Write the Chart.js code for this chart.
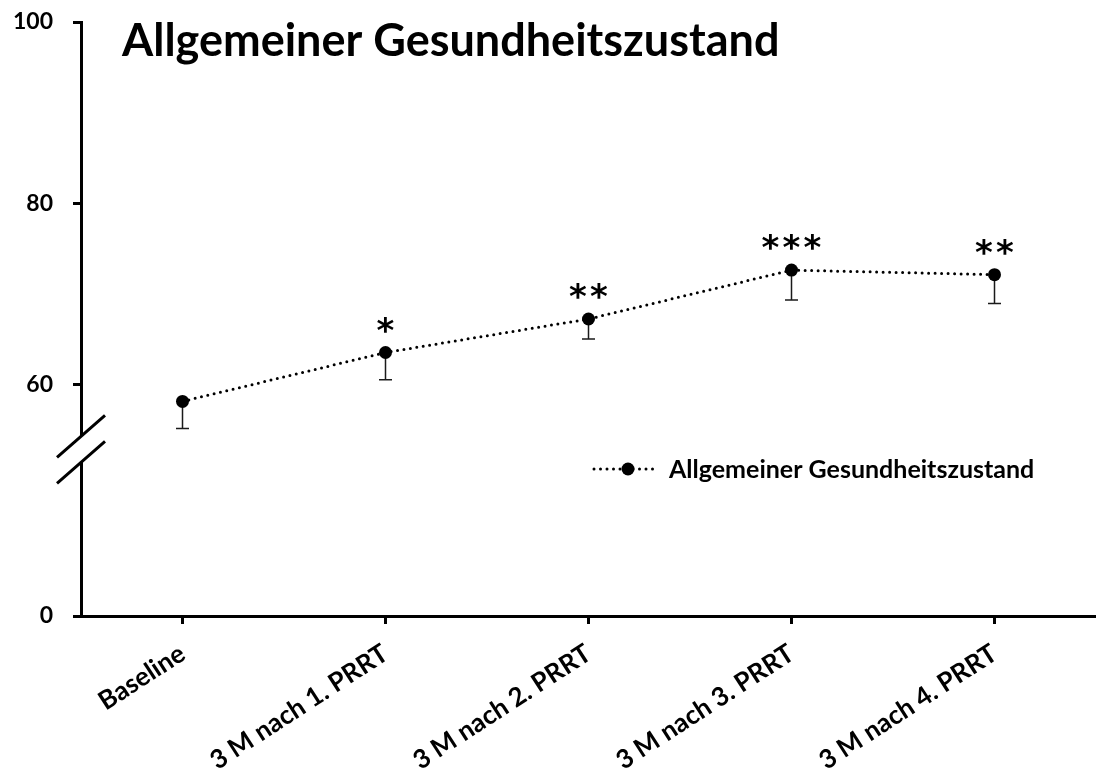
<!DOCTYPE html>
<html>
<head>
<meta charset="utf-8">
<script src="https://cdn.jsdelivr.net/npm/chart.js@4.4.1/dist/chart.umd.min.js"></script>
<style>
  html, body { margin: 0; padding: 0; background: #fff; }
  #wrap { width: 1096px; height: 776px; position: relative; }
</style>
</head>
<body>
<div id="wrap"><canvas id="c" width="1096" height="776"></canvas></div>
<script>
// Time points and mean scores (with one-sided standard errors)
const categories = ['Baseline', '3 M nach 1. PRRT', '3 M nach 2. PRRT', '3 M nach 3. PRRT', '3 M nach 4. PRRT'];
const scoreMeans = [58.1, 63.5, 67.2, 72.6, 72.1];
const scoreErrors = [3.0, 3.0, 2.2, 3.3, 3.2];
const significance = ['', '*', '**', '***', '**'];

// Broken value axis: the floor of the drawn range is labelled "0"
const AXIS_FLOOR = 34.4;
const AXIS_BREAK = 52.8;
const yTickValues = [AXIS_FLOOR, 60, 80, 100];
const yTickLabels = ['0', '60', '80', '100'];

const seriesName = 'Allgemeiner Gesundheitszustand';
const chartTitle = 'Allgemeiner Gesundheitszustand';

const FONT = 'Lato, "Open Sans", sans-serif';

// Lower whiskers with caps, drawn under the markers
const errorBarPlugin = {
  id: 'errorBars',
  beforeDatasetsDraw(chart) {
    const { ctx, scales: { x, y } } = chart;
    ctx.save();
    ctx.strokeStyle = '#1a1a1a';
    ctx.lineWidth = 1.5;
    scoreMeans.forEach((m, i) => {
      const px = x.getPixelForValue(i);
      const top = y.getPixelForValue(m);
      const bot = y.getPixelForValue(m - scoreErrors[i]);
      ctx.beginPath();
      ctx.moveTo(px, top);
      ctx.lineTo(px, bot);
      ctx.moveTo(px - 6.5, bot);
      ctx.lineTo(px + 6.5, bot);
      ctx.stroke();
    });
    ctx.restore();
  }
};

// Significance stars above each marker
const starsPlugin = {
  id: 'stars',
  afterDatasetsDraw(chart) {
    const { ctx, scales: { x, y } } = chart;
    ctx.save();
    ctx.fillStyle = '#000';
    ctx.font = 'bold 34px "DejaVu Sans"';
    ctx.textAlign = 'center';
    ctx.textBaseline = 'alphabetic';
    const m = ctx.measureText('*');
    const glyphMid = (m.actualBoundingBoxAscent - m.actualBoundingBoxDescent) / 2;
    const pitch = 21;
    const lift = 28;
    significance.forEach((s, i) => {
      if (!s) return;
      const cx = x.getPixelForValue(i);
      const cy = y.getPixelForValue(scoreMeans[i]) - lift;
      const n = s.length;
      for (let k = 0; k < n; k++) {
        const sx = cx + (k - (n - 1) / 2) * pitch;
        ctx.fillText(s[k], sx, cy + glyphMid);
      }
    });
    ctx.restore();
  }
};

// Axis break marks, title and in-plot legend
const decorPlugin = {
  id: 'decor',
  afterDraw(chart) {
    const { ctx, scales: { y }, chartArea } = chart;
    const ax = chartArea.left;
    const by = y.getPixelForValue(AXIS_BREAK);
    const half = 24, rise = 21, gap = 13;
    ctx.save();
    // white band hiding the axis between the slashes
    ctx.fillStyle = '#fff';
    ctx.beginPath();
    ctx.moveTo(ax - half, by - gap + rise);
    ctx.lineTo(ax + half, by - gap - rise);
    ctx.lineTo(ax + half, by + gap - rise);
    ctx.lineTo(ax - half, by + gap + rise);
    ctx.closePath();
    ctx.fill();
    ctx.strokeStyle = '#000';
    ctx.lineWidth = 3;
    ctx.beginPath();
    ctx.moveTo(ax - half, by - gap + rise);
    ctx.lineTo(ax + half, by - gap - rise);
    ctx.moveTo(ax - half, by + gap + rise);
    ctx.lineTo(ax + half, by + gap - rise);
    ctx.stroke();

    // title
    ctx.fillStyle = '#000';
    ctx.font = 'bold 45px ' + FONT;
    ctx.textAlign = 'left';
    ctx.textBaseline = 'alphabetic';
    ctx.fillText(chartTitle, 122, 56);

    // legend entry
    const ly = 469;
    ctx.strokeStyle = '#000';
    ctx.lineWidth = 3;
    ctx.lineCap = 'round';
    ctx.setLineDash([0, 6.5]);
    ctx.beginPath();
    ctx.moveTo(594, ly);
    ctx.lineTo(657, ly);
    ctx.stroke();
    ctx.setLineDash([]);
    ctx.beginPath();
    ctx.arc(628, ly, 6.5, 0, Math.PI * 2);
    ctx.fill();
    ctx.font = 'bold 25px ' + FONT;
    ctx.fillText(seriesName, 669, 478);
    ctx.restore();
  }
};

new Chart(document.getElementById('c'), {
  type: 'line',
  data: {
    labels: categories,
    datasets: [{
      label: seriesName,
      data: scoreMeans,
      borderColor: '#000',
      borderWidth: 3,
      borderDash: [0, 6.5],
      borderCapStyle: 'round',
      pointRadius: 6.5,
      pointBackgroundColor: '#000',
      pointBorderColor: '#000',
      pointBorderWidth: 0,
      tension: 0,
      fill: false
    }]
  },
  options: {
    responsive: false,
    animation: false,
    devicePixelRatio: 1,
    layout: { autoPadding: false, padding: { top: 22, right: 0, left: 0, bottom: 0 } },
    plugins: {
      legend: { display: false },
      title: { display: false },
      tooltip: { enabled: false }
    },
    scales: {
      x: {
        type: 'category',
        offset: true,
        grid: { display: true, drawOnChartArea: false, drawTicks: true, tickLength: 8, tickWidth: 3, tickColor: '#000' },
        border: { display: true, color: '#000', width: 3 },
        ticks: {
          color: '#000',
          font: { family: FONT, weight: 'bold', size: 26 },
          minRotation: 33, maxRotation: 33,
          padding: 14,
          autoSkip: false
        },
        afterFit(s) { s.height = 160; s.paddingLeft = 0; s.paddingRight = 0; }
      },
      y: {
        type: 'linear',
        min: AXIS_FLOOR,
        max: 100,
        afterBuildTicks(s) { s.ticks = yTickValues.map(v => ({ value: v })); },
        grid: { display: true, drawOnChartArea: false, drawTicks: true, tickLength: 8, tickWidth: 3, tickColor: '#000' },
        border: { display: true, color: '#000', width: 3 },
        ticks: {
          color: '#000',
          font: { family: FONT, weight: 'bold', size: 23 },
          padding: 20,
          callback: (v, i) => yTickLabels[i]
        },
        afterFit(s) { s.width = 81; s.paddingTop = 0; s.paddingBottom = 0; }
      }
    }
  },
  plugins: [errorBarPlugin, starsPlugin, decorPlugin]
});
</script>
</body>
</html>
